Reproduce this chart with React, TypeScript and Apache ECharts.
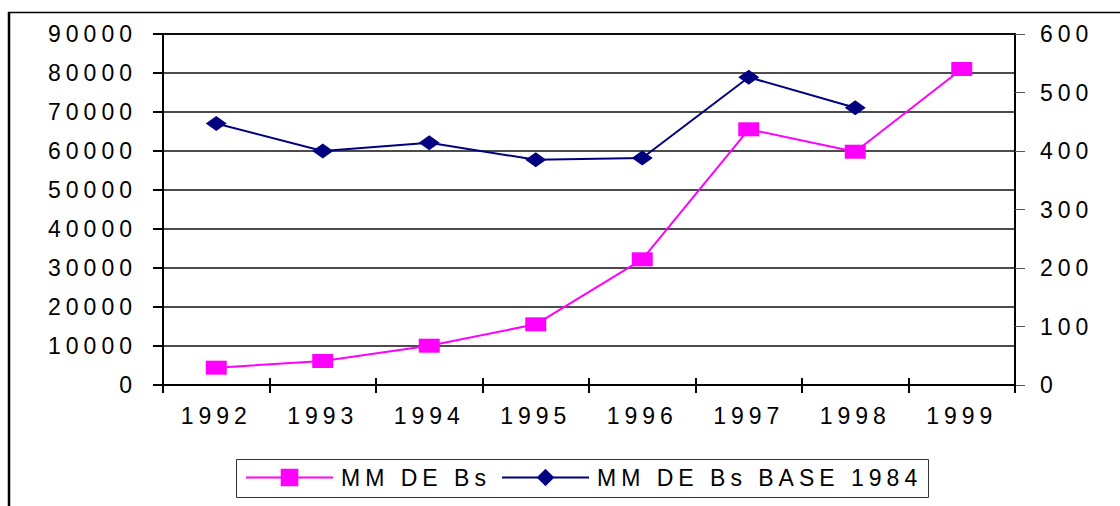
import React, { useEffect, useRef } from "react";
import * as echarts from "echarts";

const years = ["1992", "1993", "1994", "1995", "1996", "1997", "1998", "1999"];
const mmDeBs = [4440, 6150, 10080, 15560, 32230, 65560, 59820, 81030];
const mmDeBsBase1984 = [447, 400, 414, 385, 388, 526, 474, null];
const leftTicks = { min: 0, max: 90000, interval: 10000 };
const rightTicks = { min: 0, max: 600, interval: 100 };
const seriesNames = ["MM DE Bs", "MM DE Bs BASE 1984"];

const FONT = "'Liberation Sans', Arial, sans-serif";
const PINK = "#FF00FF";
const NAVY = "#000080";

export default function App() {
  const ref = useRef<HTMLDivElement>(null);
  useEffect(() => {
    if (!ref.current) return;
    const chart = echarts.init(ref.current, null, { renderer: "svg" });
    const labelStyle = { color: "#000", fontFamily: FONT, fontSize: 23 };
    chart.setOption({
      animation: false,
      backgroundColor: "#fff",
      grid: {
        left: 163,
        right: 105,
        top: 34,
        bottom: 121,
        show: true,
        borderColor: "#000",
        borderWidth: 2,
      },
      xAxis: [
        {
          type: "category",
          data: years,
          boundaryGap: true,
          axisLine: { show: true, lineStyle: { color: "#000", width: 2 } },
          axisTick: { show: true, length: 8, lineStyle: { color: "#000", width: 2 } },
          axisLabel: { ...labelStyle, margin: 19 },
          splitLine: { show: false },
        },
        {
          type: "category",
          data: years,
          position: "bottom",
          boundaryGap: true,
          axisLine: { show: false },
          axisTick: { show: true, inside: true, length: 7, lineStyle: { color: "#000", width: 2 } },
          axisLabel: { show: false },
          splitLine: { show: false },
        },
      ],
      yAxis: [
        {
          type: "value",
          ...leftTicks,
          position: "left",
          axisLine: { show: true, lineStyle: { color: "#000", width: 2 } },
          axisTick: { show: true, length: 10, lineStyle: { color: "#000", width: 2 } },
          axisLabel: { ...labelStyle, margin: 26, formatter: (v: number) => String(v) },
          splitLine: { show: true, lineStyle: { color: "#111", width: 1.5 } },
        },
        {
          type: "value",
          ...rightTicks,
          position: "right",
          axisLine: { show: true, lineStyle: { color: "#000", width: 2 } },
          axisTick: { show: true, length: 10, lineStyle: { color: "#555", width: 1 } },
          axisLabel: { ...labelStyle, margin: 25, formatter: (v: number) => String(v) },
          splitLine: { show: false },
        },
      ],
      legend: [
        {
          data: [seriesNames[0]],
          left: 245,
          top: 466,
          padding: 0,
          itemWidth: 87,
          itemHeight: 22,
          itemGap: 0,
          textStyle: { ...labelStyle, padding: [0, 0, 0, 3] },
        },
        {
          data: [seriesNames[1]],
          left: 501,
          top: 466,
          padding: 0,
          itemWidth: 87,
          itemHeight: 22,
          itemGap: 0,
          textStyle: { ...labelStyle, padding: [0, 0, 0, 3] },
        },
      ],
      graphic: [
        {
          type: "rect",
          shape: { x: 236.5, y: 459.5, width: 692, height: 38 },
          style: { fill: "none", stroke: "#333", lineWidth: 1 },
          silent: true,
        },
        {
          type: "line",
          shape: { x1: 8, y1: 12.5, x2: 1120, y2: 12.5 },
          style: { stroke: "#000", lineWidth: 1.5 },
          silent: true,
        },
        {
          type: "line",
          shape: { x1: 9, y1: 12, x2: 9, y2: 506 },
          style: { stroke: "#000", lineWidth: 2.5 },
          silent: true,
        },
      ],
      series: [
        {
          name: seriesNames[0],
          type: "line",
          xAxisIndex: 0,
          yAxisIndex: 0,
          data: mmDeBs,
          symbol: "rect",
          symbolSize: [21, 14],
          lineStyle: { color: PINK, width: 2 },
          itemStyle: { color: PINK },
        },
        {
          name: seriesNames[1],
          type: "line",
          xAxisIndex: 0,
          yAxisIndex: 1,
          data: mmDeBsBase1984,
          symbol: "diamond",
          symbolSize: [21, 15],
          lineStyle: { color: NAVY, width: 2 },
          itemStyle: { color: NAVY },
        },
      ],
    });
    return () => chart.dispose();
  }, []);
  return (
    <>
      <style>{`.chart-root text { letter-spacing: 5px; }`}</style>
      <div
        ref={ref}
        className="chart-root"
        style={{ position: "fixed", left: 0, top: 0, width: 1120, height: 506 }}
      />
    </>
  );
}
